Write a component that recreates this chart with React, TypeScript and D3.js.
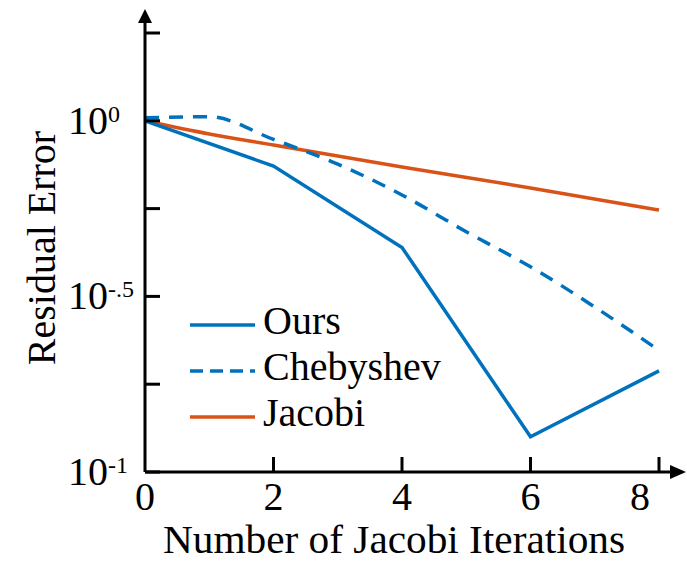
import React from 'react';
import * as d3 from 'd3';

// iterations and residuals
const oursIters = [0, 2, 4, 6, 8];
const oursVals = [1.0, 0.743, 0.436, 0.126, 0.194];

const chebIters = [0, 1, 2, 3, 4, 5, 6, 7, 8];
const chebVals = [1.02, 1.027, 0.885, 0.753, 0.615, 0.483, 0.384, 0.295, 0.222];

const jacobiIters = [0, 1, 2, 4, 6, 8];
const jacobiVals = [1.0, 0.917, 0.853, 0.739, 0.644, 0.557];

const xTicks = [0, 2, 4, 6, 8];
const yTickExps = [-1, -0.75, -0.5, -0.25, 0, 0.25];
const yLabelExps = [
  { exp: 0, sup: '0' },
  { exp: -0.5, sup: '-.5' },
  { exp: -1, sup: '-1' },
];

const legendItems = [
  { name: 'Ours', color: '#0072BD', dash: null },
  { name: 'Chebyshev', color: '#0072BD', dash: '13,7' },
  { name: 'Jacobi', color: '#D95319', dash: null },
];

const FONT = "'Liberation Serif', Tinos, 'Times New Roman', Times, 'Nimbus Roman', 'Noto Serif', 'DejaVu Serif', FreeSerif, serif";

export default function App() {
  const x = d3.scaleLinear().domain([0, 8]).range([145, 659]);
  const y = d3.scaleLog().domain([0.1, Math.pow(10, 0.25)]).range([472, 33]);

  const lineOf = (xs: number[], vs: number[], curve: d3.CurveFactory) =>
    d3.line<number>()
      .x((_, i) => x(xs[i]))
      .y(d => y(d))
      .curve(curve)(vs) as string;

  const x0 = x(0);
  const yBase = y(0.1);
  const ts = { fontFamily: FONT };

  return (
    <svg width={687} height={562} style={{ position: 'absolute', left: 0, top: 0, fontFamily: FONT }}>
      <rect width={687} height={562} fill="#fff" />

      {/* data lines */}
      <path d={lineOf(jacobiIters, jacobiVals, d3.curveMonotoneX)} fill="none" stroke="#D95319" strokeWidth={3.5} />
      <path d={lineOf(chebIters, chebVals, d3.curveMonotoneX)} fill="none" stroke="#0072BD" strokeWidth={3.5} strokeDasharray="14,10" />
      <path d={lineOf(oursIters, oursVals, d3.curveLinear)} fill="none" stroke="#0072BD" strokeWidth={3.5} strokeLinejoin="miter" />

      {/* axes */}
      <line x1={x0} y1={yBase} x2={x0} y2={18} stroke="#000" strokeWidth={3} />
      <path d={`M${x0 - 7},${23} L${x0},${9} L${x0 + 7},${23} Z`} fill="#000" />
      <line x1={x0} y1={yBase} x2={674} y2={yBase} stroke="#000" strokeWidth={3} />
      <path d={`M${670},${yBase - 7} L${686},${yBase} L${670},${yBase + 7} Z`} fill="#000" />

      {yTickExps.map(e => (
        <line key={e} x1={x0} x2={x0 + 15} y1={y(Math.pow(10, e))} y2={y(Math.pow(10, e))} stroke="#000" strokeWidth={3} />
      ))}
      {xTicks.filter(t => t > 0).map(t => (
        <line key={t} x1={x(t)} x2={x(t)} y1={yBase} y2={yBase - 15} stroke="#000" strokeWidth={3} />
      ))}

      {/* tick labels */}
      {xTicks.map((t, i) => (
        <text key={t} style={ts} x={i === xTicks.length - 1 ? x(t) - 9 : x(t)} y={510} fontSize={40}
          textAnchor={i === xTicks.length - 1 ? 'end' : 'middle'}>{t}</text>
      ))}
      {yLabelExps.map(d => {
        const ty = y(Math.pow(10, d.exp));
        return (
          <g key={d.exp}>
            <text style={ts} x={108} y={ty + 13} fontSize={40} textAnchor="end">10</text>
            <text style={ts} x={108} y={ty + 1} fontSize={24}>{d.sup}</text>
          </g>
        );
      })}

      {/* axis titles */}
      <text style={ts} x={394} y={553} fontSize={40} textAnchor="middle" textLength={462} lengthAdjust="spacingAndGlyphs">
        Number of Jacobi Iterations
      </text>
      <text style={ts} transform="translate(55,248) rotate(-90)" fontSize={40} textAnchor="middle">Residual Error</text>

      {/* legend */}
      {legendItems.map((d, i) => {
        const ly = 325 + i * 46;
        return (
          <g key={d.name}>
            <line x1={190} x2={255} y1={ly} y2={ly} stroke={d.color} strokeWidth={3.5}
              strokeDasharray={d.dash ?? undefined} />
            <text style={ts} x={263} y={ly + 9} fontSize={40}>{d.name}</text>
          </g>
        );
      })}
    </svg>
  );
}
